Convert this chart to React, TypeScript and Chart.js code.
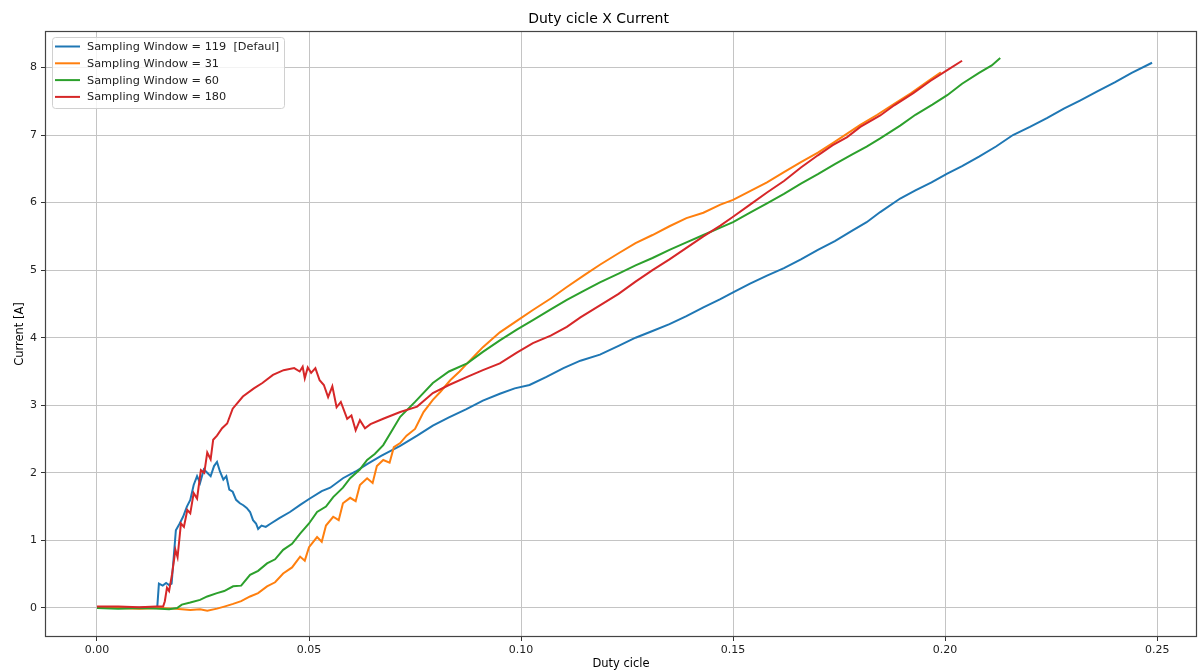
import { useEffect, useRef } from "react";
import { Chart, registerables } from "chart.js";

Chart.register(...registerables);

const TITLE = "Duty cicle X Current";
const X_LABEL = "Duty cicle";
const Y_LABEL = "Current [A]";
const SERIES_LABELS = [
  "Sampling Window = 119  [Defaul]",
  "Sampling Window = 31",
  "Sampling Window = 60",
  "Sampling Window = 180",
];
const SERIES_COLORS = ["#1f77b4", "#ff7f0e", "#2ca02c", "#d62728"];
const X_TICKS = [0, 0.05, 0.1, 0.15, 0.2, 0.25];
const Y_TICKS = [0, 1, 2, 3, 4, 5, 6, 7, 8];
const X_RANGE = [-0.01226, 0.2594];
const Y_RANGE = [-0.43, 8.54];

// [duty cycle, current]
const W119: [number, number][] = [
  [0, 0.0], [0.004, 0.01], [0.008, 0.0], [0.012, 0.01], [0.0142, 0.0], [0.0146, 0.36],
  [0.0155, 0.33], [0.0163, 0.37], [0.017, 0.34], [0.0176, 0.36], [0.0186, 1.15], [0.0195, 1.25],
  [0.0203, 1.35], [0.0212, 1.5], [0.022, 1.6], [0.0228, 1.82], [0.0236, 1.95], [0.0243, 1.85],
  [0.0252, 2.05], [0.026, 2.0], [0.0268, 1.95], [0.0276, 2.1], [0.0283, 2.16], [0.029, 2.02],
  [0.0298, 1.9], [0.0305, 1.95], [0.0312, 1.75], [0.032, 1.72], [0.0328, 1.6], [0.0337, 1.55],
  [0.0345, 1.52], [0.0353, 1.48], [0.0361, 1.42], [0.0368, 1.3], [0.0375, 1.25], [0.038, 1.17],
  [0.0388, 1.22], [0.0398, 1.2], [0.041, 1.25], [0.043, 1.33], [0.0455, 1.42], [0.048, 1.53],
  [0.0502, 1.62], [0.053, 1.73], [0.055, 1.78], [0.058, 1.92], [0.061, 2.02], [0.0637, 2.13],
  [0.067, 2.25], [0.0715, 2.4], [0.0755, 2.55], [0.0792, 2.7], [0.083, 2.82], [0.087, 2.94],
  [0.091, 3.07], [0.095, 3.17], [0.0985, 3.25], [0.102, 3.3], [0.106, 3.42], [0.11, 3.55],
  [0.114, 3.66], [0.1186, 3.75], [0.123, 3.88], [0.127, 4.0], [0.131, 4.1], [0.135, 4.2],
  [0.139, 4.32], [0.143, 4.45], [0.147, 4.57], [0.15, 4.67], [0.154, 4.8], [0.158, 4.92],
  [0.162, 5.03], [0.166, 5.16], [0.17, 5.3], [0.174, 5.43], [0.178, 5.58], [0.1815, 5.71],
  [0.1847, 5.86], [0.1894, 6.06], [0.193, 6.18], [0.1968, 6.3], [0.2005, 6.43], [0.204, 6.54],
  [0.208, 6.68], [0.212, 6.83], [0.216, 7.0], [0.22, 7.12], [0.224, 7.25], [0.228, 7.39],
  [0.2318, 7.51], [0.236, 7.65], [0.24, 7.78], [0.244, 7.92], [0.2488, 8.07],
];

const W31: [number, number][] = [
  [0, 0.0], [0.005, 0.0], [0.01, -0.01], [0.015, 0.0], [0.018, -0.01], [0.02, -0.02],
  [0.022, -0.03], [0.0243, -0.02], [0.026, -0.04], [0.0283, -0.01], [0.03, 0.02], [0.0321, 0.06],
  [0.034, 0.1], [0.0361, 0.17], [0.038, 0.22], [0.0401, 0.32], [0.042, 0.38], [0.0439, 0.51],
  [0.046, 0.6], [0.0479, 0.76], [0.049, 0.7], [0.05, 0.9], [0.0519, 1.05], [0.053, 0.98],
  [0.054, 1.22], [0.0557, 1.35], [0.057, 1.3], [0.058, 1.55], [0.0597, 1.63], [0.061, 1.58],
  [0.062, 1.82], [0.0637, 1.92], [0.065, 1.85], [0.066, 2.1], [0.0675, 2.19], [0.069, 2.15],
  [0.07, 2.38], [0.0715, 2.44], [0.073, 2.55], [0.075, 2.65], [0.077, 2.9], [0.0792, 3.08],
  [0.081, 3.2], [0.0833, 3.37], [0.0855, 3.5], [0.0873, 3.62], [0.089, 3.73], [0.091, 3.86],
  [0.093, 3.97], [0.095, 4.08], [0.099, 4.25], [0.1028, 4.41], [0.107, 4.58], [0.1108, 4.75],
  [0.115, 4.93], [0.1186, 5.08], [0.123, 5.25], [0.127, 5.4], [0.131, 5.52], [0.135, 5.65],
  [0.139, 5.77], [0.143, 5.85], [0.147, 5.97], [0.15, 6.04], [0.154, 6.17], [0.158, 6.3],
  [0.162, 6.45], [0.166, 6.6], [0.17, 6.74], [0.1735, 6.88], [0.1769, 7.02], [0.18, 7.15],
  [0.184, 7.3], [0.188, 7.46], [0.192, 7.62], [0.196, 7.8], [0.199, 7.93],
];

const W60: [number, number][] = [
  [0, 0.0], [0.005, -0.01], [0.01, 0.0], [0.014, -0.01], [0.017, -0.02], [0.0189, 0.0],
  [0.02, 0.05], [0.022, 0.08], [0.0243, 0.12], [0.026, 0.17], [0.0283, 0.22], [0.03, 0.25],
  [0.0321, 0.32], [0.034, 0.33], [0.0361, 0.49], [0.038, 0.55], [0.0401, 0.66], [0.042, 0.72],
  [0.0439, 0.86], [0.046, 0.95], [0.0479, 1.1], [0.05, 1.25], [0.0519, 1.42], [0.054, 1.5],
  [0.0557, 1.64], [0.058, 1.78], [0.0597, 1.92], [0.062, 2.05], [0.0637, 2.19], [0.0655, 2.28],
  [0.0675, 2.41], [0.0695, 2.62], [0.0715, 2.83], [0.075, 3.05], [0.0792, 3.33], [0.083, 3.5],
  [0.0873, 3.62], [0.091, 3.79], [0.095, 3.96], [0.099, 4.12], [0.1028, 4.26], [0.107, 4.42],
  [0.1108, 4.56], [0.115, 4.7], [0.1186, 4.82], [0.123, 4.95], [0.127, 5.07], [0.131, 5.18],
  [0.135, 5.3], [0.139, 5.41], [0.143, 5.52], [0.147, 5.63], [0.15, 5.71], [0.154, 5.85],
  [0.158, 5.99], [0.162, 6.13], [0.166, 6.28], [0.17, 6.42], [0.174, 6.57], [0.178, 6.71],
  [0.1815, 6.83], [0.1847, 6.95], [0.1894, 7.14], [0.193, 7.3], [0.197, 7.45], [0.2005, 7.59],
  [0.204, 7.76], [0.208, 7.92], [0.211, 8.03], [0.213, 8.14],
];

const W180: [number, number][] = [
  [0, 0.02], [0.005, 0.02], [0.01, 0.01], [0.014, 0.02], [0.0156, 0.02], [0.016, 0.1],
  [0.0165, 0.3], [0.017, 0.25], [0.0177, 0.5], [0.0185, 0.86], [0.019, 0.75], [0.0198, 1.25],
  [0.0205, 1.2], [0.0213, 1.45], [0.022, 1.4], [0.0228, 1.7], [0.0236, 1.62], [0.0245, 2.04],
  [0.0253, 2.0], [0.026, 2.3], [0.0268, 2.2], [0.0274, 2.49], [0.0283, 2.55], [0.0295, 2.66],
  [0.0307, 2.73], [0.032, 2.95], [0.0344, 3.13], [0.037, 3.25], [0.039, 3.33], [0.0415, 3.45],
  [0.044, 3.52], [0.0465, 3.55], [0.0478, 3.5], [0.0485, 3.57], [0.049, 3.4], [0.0497, 3.56],
  [0.0505, 3.48], [0.0515, 3.55], [0.0525, 3.37], [0.0535, 3.3], [0.0545, 3.12], [0.0555, 3.28],
  [0.0565, 2.97], [0.0575, 3.05], [0.059, 2.8], [0.06, 2.85], [0.061, 2.63], [0.062, 2.78],
  [0.0632, 2.66], [0.0645, 2.72], [0.0675, 2.8], [0.0715, 2.9], [0.0755, 2.98], [0.0792, 3.18],
  [0.083, 3.3], [0.0873, 3.42], [0.091, 3.52], [0.095, 3.62], [0.099, 3.78], [0.1028, 3.92],
  [0.107, 4.03], [0.1108, 4.16], [0.114, 4.3], [0.1186, 4.48], [0.123, 4.65], [0.127, 4.83],
  [0.131, 5.0], [0.135, 5.16], [0.139, 5.33], [0.143, 5.5], [0.147, 5.66], [0.15, 5.79],
  [0.154, 5.97], [0.158, 6.15], [0.162, 6.32], [0.166, 6.52], [0.17, 6.7], [0.1735, 6.85],
  [0.1769, 6.97], [0.18, 7.12], [0.1847, 7.29], [0.188, 7.44], [0.1925, 7.62], [0.1965, 7.8],
  [0.2005, 7.96], [0.204, 8.1],
];

const SERIES = [W119, W31, W60, W180];
const FONT = "'DejaVu Sans', sans-serif";

const frameAndLegend = {
  id: "frameAndLegend",
  afterDatasetsDraw(chart: any) {
    const { ctx, chartArea } = chart;
    ctx.save();
    // spines
    ctx.strokeStyle = "#444444";
    ctx.lineWidth = 1.2;
    ctx.strokeRect(chartArea.left + 0.5, chartArea.top + 0.5, chartArea.right - chartArea.left - 1, chartArea.bottom - chartArea.top - 1);
    // legend box
    const x0 = chartArea.left + 7;
    const y0 = chartArea.top + 6;
    const w = 232;
    const h = 71;
    ctx.beginPath();
    ctx.roundRect(x0 + 0.5, y0 + 0.5, w, h, 3);
    ctx.fillStyle = "rgba(255,255,255,0.8)";
    ctx.fill();
    ctx.strokeStyle = "#d0d0d0";
    ctx.lineWidth = 1;
    ctx.stroke();
    ctx.font = `11.3px ${FONT}`;
    ctx.textBaseline = "middle";
    ctx.textAlign = "left";
    chart.data.datasets.forEach((ds: any, i: number) => {
      const y = y0 + 9.5 + i * 16.8;
      ctx.beginPath();
      ctx.moveTo(x0 + 3, y);
      ctx.lineTo(x0 + 28, y);
      ctx.strokeStyle = ds.borderColor;
      ctx.lineWidth = 2;
      ctx.stroke();
      ctx.fillStyle = "#222222";
      ctx.fillText(ds.label, x0 + 35, y + 0.5);
    });
    ctx.restore();
  },
};

export default function App() {
  const canvasRef = useRef<HTMLCanvasElement | null>(null);

  useEffect(() => {
    if (!canvasRef.current) return;
    const chart = new Chart(canvasRef.current, {
      type: "line",
      data: {
        datasets: SERIES.map((s, i) => ({
          label: SERIES_LABELS[i],
          data: s.map(([x, y]) => ({ x, y })),
          borderColor: SERIES_COLORS[i],
          backgroundColor: SERIES_COLORS[i],
          borderWidth: 2,
          pointRadius: 0,
          tension: 0,
          fill: false,
          order: SERIES.length - 1 - i,
        })),
      },
      options: {
        animation: false,
        responsive: true,
        maintainAspectRatio: false,
        layout: { padding: { left: 0, right: 2, top: 0, bottom: 0 } },
        plugins: {
          legend: { display: false },
          tooltip: { enabled: false },
          title: {
            display: true,
            text: TITLE,
            color: "#000000",
            font: { family: FONT, size: 14, weight: "normal" },
            padding: { top: 10.6, bottom: 3.6 },
          },
        },
        scales: {
          x: {
            type: "linear",
            min: X_RANGE[0],
            max: X_RANGE[1],
            afterBuildTicks: (scale: any) => {
              scale.ticks = X_TICKS.map((v) => ({ value: v }));
            },
            afterFit: (scale: any) => {
              scale.height = 34;
            },
            ticks: {
              callback: (v: any) => Number(v).toFixed(2),
              color: "#222222",
              font: { family: FONT, size: 11 },
              padding: 3,
              maxRotation: 0,
              autoSkip: false,
            },
            grid: { color: "#c4c4c4", lineWidth: 1, tickLength: 4, tickColor: "#333333", drawTicks: true },
            border: { display: false },
            title: {
              display: true,
              text: X_LABEL,
              color: "#000000",
              font: { family: FONT, size: 11.5 },
              padding: { top: 0, bottom: 0 },
            },
          },
          y: {
            type: "linear",
            min: Y_RANGE[0],
            max: Y_RANGE[1],
            afterBuildTicks: (scale: any) => {
              scale.ticks = Y_TICKS.map((v) => ({ value: v }));
            },
            afterFit: (scale: any) => {
              scale.width = 45;
            },
            ticks: {
              callback: (v: any) => String(v),
              color: "#222222",
              font: { family: FONT, size: 11 },
              padding: 4,
              autoSkip: false,
            },
            grid: { color: "#c4c4c4", lineWidth: 1, tickLength: 4, tickColor: "#333333", drawTicks: true },
            border: { display: false },
            title: {
              display: true,
              text: Y_LABEL,
              color: "#000000",
              font: { family: FONT, size: 11.5 },
              padding: { top: 13, bottom: 0 },
            },
          },
        },
      },
      plugins: [frameAndLegend],
    });
    return () => chart.destroy();
  }, []);

  return (
    <div style={{ position: "fixed", left: 0, top: 0, width: 1199, height: 671, background: "#ffffff" }}>
      <canvas ref={canvasRef} />
    </div>
  );
}
